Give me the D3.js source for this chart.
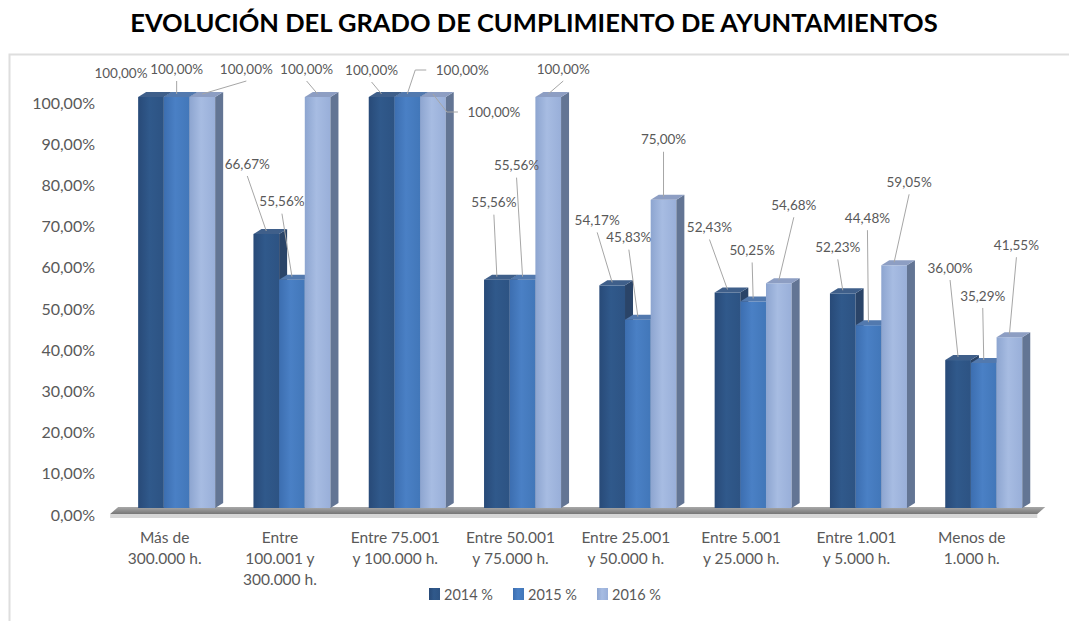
<!DOCTYPE html>
<html>
<head>
<meta charset="utf-8">
<script src="https://cdn.jsdelivr.net/npm/d3@7"></script>
<style>
  body { margin: 0; background: #fff; }
  text { font-family: Lato, "Open Sans", sans-serif; }
</style>
</head>
<body>
<script>
// chart values
var categories = ["Más de\n300.000 h.", "Entre\n100.001 y\n300.000 h.", "Entre 75.001\ny 100.000 h.",
  "Entre 50.001\ny 75.000 h.", "Entre 25.001\ny 50.000 h.", "Entre 5.001\ny 25.000 h.",
  "Entre 1.001\ny 5.000 h.", "Menos de\n1.000 h."];
var series = ["2014 %", "2015 %", "2016 %"];
var values2014 = [1, 0.6667, 1, 0.5556, 0.5417, 0.5243, 0.5223, 0.36];
var values2015 = [1, 0.5556, 1, 0.5556, 0.4583, 0.5025, 0.4448, 0.3529];
var values2016 = [1, 1, 1, 1, 0.75, 0.5468, 0.5905, 0.4155];
var yTicks = [0, 0.1, 0.2, 0.3, 0.4, 0.5, 0.6, 0.7, 0.8, 0.9, 1];
var title = "EVOLUCIÓN DEL GRADO DE CUMPLIMIENTO DE AYUNTAMIENTOS";

// where each data label sits relative to its bar top, and how its leader is drawn
var labelOffsets = [
  [[-30, -21, "n"], [-19, -67, "b"], [-10, -24, "b"], [-3, -74, "b"], [-15, -62, "b"], [-18, -62, "b"], [-5, -43, "b"], [-8, -89, "b"]],
  [[0, -25, "b"], [-10, -75, "b"], [55, -24, "l"], [-6, -111, "b"], [-9, -79, "b"], [-1, -48, "b"], [-1, -104, "b"], [-1, -64, "b"]],
  [[44, -25, "b"], [-11, -25, "b"], [61, 18, "l"], [15, -25, "b"], [0, -57, "b"], [15, -75, "b"], [15, -80, "b"], [7, -89, "b"]]
];

var frontColors = [["#284a78", "#30598b", "#2d5383"], ["#3c6eb0", "#4a80c5", "#4277b9"], ["#8da5d0", "#a7bce2", "#99afd9"]];
var sideColors = ["#2a4468", "#3f6190", "#637594"];
var topColors = ["#3f5f8a", "#5279ae", "#8d9ec3"];

var W = 1069, H = 621;
var DX = 8, DY = 5;
var textColor = "#595959";

var fmt = d3.formatLocale({ decimal: ",", thousands: ".", grouping: [3], currency: ["", "€"] }).format(".2%");

var svg = d3.select("body").append("svg")
  .attr("width", W)
  .attr("height", H);

var defs = svg.append("defs");
frontColors.forEach(function(c, k) {
  var g = defs.append("linearGradient").attr("id", "front" + k)
    .attr("x1", 0).attr("x2", 1).attr("y1", 0).attr("y2", 0);
  g.append("stop").attr("offset", "0%").attr("stop-color", c[0]);
  g.append("stop").attr("offset", "45%").attr("stop-color", c[1]);
  g.append("stop").attr("offset", "100%").attr("stop-color", c[2]);
});
var fg = defs.append("linearGradient").attr("id", "floor")
  .attr("x1", 0).attr("x2", 0).attr("y1", 0).attr("y2", 1);
fg.append("stop").attr("offset", "0%").attr("stop-color", "#a8a8a8");
fg.append("stop").attr("offset", "100%").attr("stop-color", "#767676");

// frame (chart area is cut on the right and bottom)
svg.append("rect")
  .attr("x", 9.5).attr("y", 54.5)
  .attr("width", 1200).attr("height", 700)
  .attr("fill", "none")
  .attr("stroke", "#dedede")
  .attr("stroke-width", 2);

svg.append("text")
  .attr("x", 534).attr("y", 32)
  .attr("text-anchor", "middle")
  .attr("font-size", 25.5)
  .attr("font-weight", "bold")
  .attr("fill", "#000")
  .text(title);

var x = d3.scaleBand()
  .domain(categories)
  .range([119, 1041.4])
  .paddingInner(0.332)
  .paddingOuter(0.166);

var xs = d3.scaleBand()
  .domain(series)
  .range([0, x.bandwidth()]);

var y = d3.scaleLinear().domain([0, 1]).range([508, 97]);
var yLabels = d3.scaleLinear().domain([0, 1]).range([515, 103]);

// y axis labels
var yAxis = d3.axisLeft(yLabels)
  .tickValues(yTicks)
  .tickFormat(fmt)
  .tickSize(0)
  .tickPadding(0);

var yg = svg.append("g")
  .attr("transform", "translate(95,0)")
  .call(yAxis);
yg.select(".domain").remove();
yg.selectAll("text")
  .attr("font-size", 16)
  .attr("fill", textColor)
  .style("font-family", "Lato, 'Open Sans', sans-serif");

// floor slab
var fx0 = x(categories[0]) - 28;
var fx1 = x(categories[categories.length - 1]) + x.bandwidth() + 15;
svg.append("polygon")
  .attr("points", [[fx0, 514], [fx1, 514], [fx1 + DX, 514 - DY - 2], [fx0 + DX, 514 - DY - 2]].join(" "))
  .attr("fill", "url(#floor)");
svg.append("rect")
  .attr("x", fx0).attr("y", 514)
  .attr("width", fx1 - fx0).attr("height", 4)
  .attr("fill", "#d6d6d6");

// bars
var allValues = [values2014, values2015, values2016];
var bars = [];
categories.forEach(function(c, i) {
  series.forEach(function(s, k) {
    bars.push({ cat: c, ser: s, k: k, v: allValues[k][i], off: labelOffsets[k][i] });
  });
});

var bw = xs.bandwidth();
var bar = svg.append("g").selectAll("g")
  .data(bars)
  .join("g");

bar.append("rect")
  .attr("x", function(d) { return x(d.cat) + xs(d.ser); })
  .attr("y", function(d) { return y(d.v); })
  .attr("width", bw)
  .attr("height", function(d) { return y(0) - y(d.v); })
  .attr("fill", function(d) { return "url(#front" + d.k + ")"; });

bar.append("polygon")
  .attr("points", function(d) {
    var x1 = x(d.cat) + xs(d.ser) + bw, yt = y(d.v), yb = y(0);
    return [[x1, yt], [x1 + DX, yt - DY], [x1 + DX, yb - DY], [x1, yb]].join(" ");
  })
  .attr("fill", function(d) { return sideColors[d.k]; });

bar.append("polygon")
  .attr("points", function(d) {
    var x0 = x(d.cat) + xs(d.ser), yt = y(d.v);
    return [[x0, yt], [x0 + bw, yt], [x0 + bw + DX, yt - DY], [x0 + DX, yt - DY]].join(" ");
  })
  .attr("fill", function(d) { return topColors[d.k]; });

// data labels with leader lines
function anchor(d) {
  return [x(d.cat) + xs(d.ser) + bw / 2, y(d.v) - 3];
}

var lab = svg.append("g").selectAll("g")
  .data(bars)
  .join("g");

lab.filter(function(d) { return d.off[2] === "b"; })
  .append("line")
  .attr("x1", function(d) { return anchor(d)[0] + d.off[0]; })
  .attr("y1", function(d) { return anchor(d)[1] + d.off[1] + 12; })
  .attr("x2", function(d) { return anchor(d)[0]; })
  .attr("y2", function(d) { return anchor(d)[1]; })
  .attr("stroke", "#a6a6a6")
  .attr("stroke-width", 1);

lab.filter(function(d) { return d.off[2] === "l"; })
  .append("polyline")
  .attr("points", function(d) {
    var a = anchor(d), lx = a[0] + d.off[0], ly = a[1] + d.off[1];
    return [[lx - 36, ly], [lx - 47, ly], a].join(" ");
  })
  .attr("fill", "none")
  .attr("stroke", "#a6a6a6")
  .attr("stroke-width", 1);

lab.append("text")
  .attr("x", function(d) { return anchor(d)[0] + d.off[0]; })
  .attr("y", function(d) { return anchor(d)[1] + d.off[1]; })
  .attr("dy", "0.35em")
  .attr("text-anchor", "middle")
  .attr("font-size", 13.5)
  .attr("fill", textColor)
  .text(function(d) { return fmt(d.v); });

// category labels
var cl = svg.append("g").selectAll("text")
  .data(categories)
  .join("text")
  .attr("x", function(d) { return x(d) + x.bandwidth() / 2 - 12; })
  .attr("y", 543)
  .attr("text-anchor", "middle")
  .attr("font-size", 15.5)
  .attr("fill", textColor);
cl.selectAll("tspan")
  .data(function(d) { return d.split("\n"); })
  .join("tspan")
  .attr("x", function() { return d3.select(this.parentNode).attr("x"); })
  .attr("dy", function(d, i) { return i === 0 ? 0 : 21; })
  .text(function(d) { return d; });

// legend
var legendX = d3.scalePoint().domain(series).range([429, 597]);
var lg = svg.append("g").selectAll("g")
  .data(series)
  .join("g")
  .attr("transform", function(d) { return "translate(" + legendX(d) + ",588)"; });
lg.append("rect")
  .attr("width", 11).attr("height", 12)
  .attr("fill", function(d, k) { return "url(#front" + k + ")"; });
lg.append("text")
  .attr("x", 15).attr("y", 11.5)
  .attr("font-size", 14.5)
  .attr("fill", textColor)
  .text(function(d) { return d; });
</script>
</body>
</html>
